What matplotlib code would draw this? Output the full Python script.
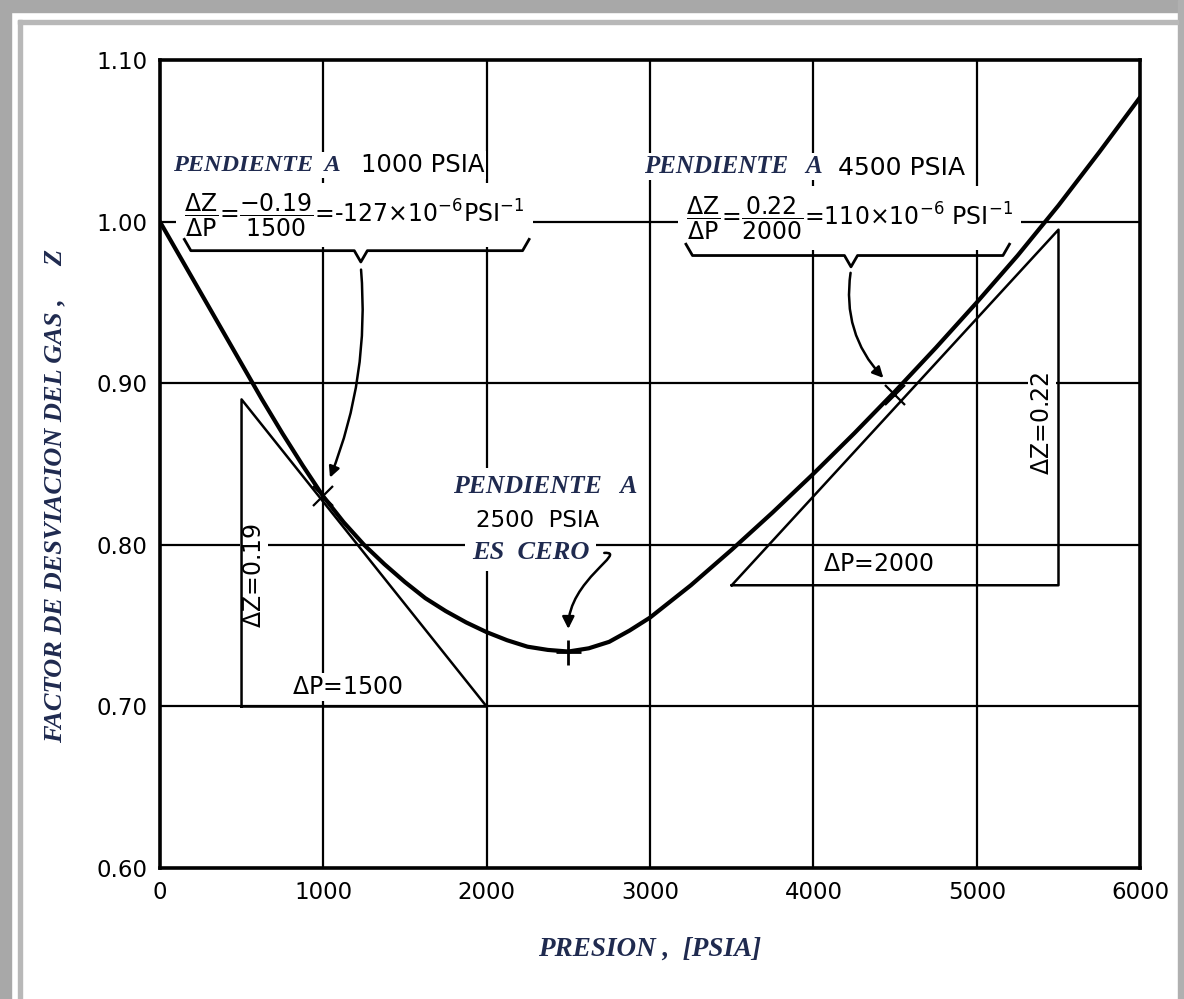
import numpy as np
import matplotlib.pyplot as plt
from matplotlib.patches import FancyArrowPatch, Rectangle
from matplotlib.path import Path

plt.rcParams['mathtext.default'] = 'regular'
plt.rcParams['mathtext.fontset'] = 'dejavusans'

# curva del factor Z
presion = [0, 125, 250, 375, 500, 625, 750, 875, 1000, 1125, 1250, 1375, 1500, 1625,
           1750, 1875, 2000, 2125, 2250, 2375, 2500, 2625, 2750, 2875, 3000, 3125,
           3250, 3375, 3500, 3750, 4000, 4250, 4500, 4750, 5000, 5250, 5500, 5750, 6000]
z_factor = [1.000, 0.978, 0.956, 0.934, 0.912, 0.890, 0.869, 0.849, 0.830, 0.814,
            0.800, 0.788, 0.777, 0.767, 0.759, 0.752, 0.746, 0.741, 0.737, 0.735,
            0.734, 0.736, 0.740, 0.747, 0.755, 0.765, 0.775, 0.786, 0.797, 0.820,
            0.844, 0.869, 0.895, 0.922, 0.950, 0.979, 1.010, 1.043, 1.077]

# triangulos de pendiente: (p_inicio, z_inicio), (p_fin, z_fin)
tri_1000 = [(500, 0.890), (2000, 0.700)]
tri_4500 = [(3500, 0.775), (5500, 0.995)]
puntos_tangentes = [(1000, 0.830), (4500, 0.893)]
punto_minimo = (2500, 0.734)

x_ticks = [0, 1000, 2000, 3000, 4000, 5000, 6000]
y_ticks = [0.60, 0.70, 0.80, 0.90, 1.00, 1.10]
y_tick_labels = ['0.60', '0.70', '0.80', '0.90', '1.00', '1.10']

navy = '#1f2a4f'
serif_bi = dict(family='Liberation Serif', weight='bold', style='italic', color=navy)
sans = dict(family='DejaVu Sans', color='black')
white_box = dict(facecolor='white', edgecolor='none', pad=1.5)
white_box_c = dict(facecolor='white', edgecolor='none', pad=5)

fig = plt.figure(figsize=(11.84, 9.99), dpi=100)
ax = fig.add_axes([0.135, 0.131, 0.828, 0.809])

ax.set_xlim(0, 6000)
ax.set_ylim(0.60, 1.10)

# rejilla
for p in x_ticks[1:-1]:
    ax.axvline(p, color='black', lw=1.6, zorder=1)
for z in y_ticks[1:-1]:
    ax.axhline(z, color='black', lw=1.6, zorder=1)

for s in ax.spines.values():
    s.set_linewidth(2.6)
    s.set_zorder(6)

ax.set_xticks(x_ticks)
ax.set_xticklabels([str(v) for v in x_ticks], fontsize=16.5, **sans)
ax.set_yticks(y_ticks)
ax.set_yticklabels(y_tick_labels, fontsize=16.5, **sans)
ax.tick_params(length=0, pad=9)

# curva
ax.plot(presion, z_factor, color='black', lw=3.0, zorder=5,
        solid_capstyle='round', solid_joinstyle='round')

# triangulos de pendiente
(p0, z0), (p1, z1) = tri_1000
ax.plot([p0, p0, p1, p0], [z1, z0, z1, z1], color='black', lw=1.8, zorder=4)
(p0, z0), (p1, z1) = tri_4500
ax.plot([p0, p1, p1, p0], [z0, z0, z1, z0], color='black', lw=1.8, zorder=4)

# marcas en los puntos de tangencia
for p, z in puntos_tangentes:
    ax.plot(p, z, marker='x', ms=14, mew=1.6, color='black', zorder=6)
ax.plot(*punto_minimo, marker='+', ms=18, mew=2.0, color='black', zorder=6)

# textos
ax.text(80, 1.035, 'PENDIENTE  A', fontsize=17.5, ha='left', va='center', zorder=3,
        bbox=white_box, **serif_bi)
ax.text(1230, 1.035, '1000 PSIA', fontsize=17.5, ha='left', va='center', zorder=3,
        bbox=white_box, **sans)
ax.text(150, 1.004,
        r'$\dfrac{\Delta Z}{\Delta P}$=$\dfrac{-0.19}{1500}$=-127$\times$10$^{-6}$PSI$^{-1}$',
        fontsize=17, ha='left', va='center', zorder=3, bbox=dict(facecolor='white',
        edgecolor='none', pad=6), **sans)

ax.text(2965, 1.034, 'PENDIENTE   A', fontsize=18, ha='left', va='center', zorder=3,
        bbox=white_box, **serif_bi)
ax.text(4150, 1.033, '4500 PSIA', fontsize=18, ha='left', va='center', zorder=3,
        bbox=white_box, **sans)
ax.text(3220, 1.002,
        r'$\dfrac{\Delta Z}{\Delta P}$=$\dfrac{0.22}{2000}$=110$\times$10$^{-6}$ PSI$^{-1}$',
        fontsize=17, ha='left', va='center', zorder=3, bbox=dict(facecolor='white',
        edgecolor='none', pad=6), **sans)

ax.text(2360, 0.836, 'PENDIENTE   A', fontsize=18.5, ha='center', va='center', zorder=3,
        bbox=white_box_c, **serif_bi)
ax.text(2315, 0.815, '2500  PSIA', fontsize=16.5, ha='center', va='center', zorder=3,
        bbox=white_box_c, **sans)
ax.text(2270, 0.795, 'ES  CERO', fontsize=19, ha='center', va='center', zorder=3,
        bbox=white_box_c, **serif_bi)

ax.text(1150, 0.712, r'$\Delta$P=1500', fontsize=17, ha='center', va='center', zorder=3,
        bbox=white_box, **sans)
ax.text(4400, 0.788, r'$\Delta$P=2000', fontsize=17, ha='center', va='center', zorder=3,
        bbox=white_box, **sans)
ax.text(575, 0.781, r'$\Delta$Z=0.19', fontsize=17, ha='center', va='center', rotation=90,
        zorder=3, bbox=white_box, **sans)
ax.text(5400, 0.875, r'$\Delta$Z=0.22', fontsize=17, ha='center', va='center', rotation=90,
        zorder=3, bbox=white_box, **sans)


def llave(x0, x1, xc, y, dy=0.007, dx=40):
    xs = [x0, x0 + dx, xc - dx, xc, xc + dx, x1 - dx, x1]
    ys = [y + dy, y, y, y - dy, y, y, y + dy]
    ax.plot(xs, ys, color='black', lw=2.0, zorder=4)


llave(150, 2260, 1230, 0.982)
llave(3220, 5200, 4230, 0.979)

# flechas
ax.add_patch(FancyArrowPatch((1230, 0.972), (1035, 0.840), arrowstyle='-|>',
                             mutation_scale=16, lw=1.8, color='black',
                             connectionstyle='arc3,rad=-0.12', zorder=6))
ax.add_patch(FancyArrowPatch((4230, 0.970), (4440, 0.902), arrowstyle='-|>',
                             mutation_scale=16, lw=1.8, color='black',
                             connectionstyle='arc3,rad=0.25', zorder=6))
ruta = Path([(2720, 0.795), (2870, 0.796), (2500, 0.778), (2500, 0.748)],
            [Path.MOVETO, Path.CURVE4, Path.CURVE4, Path.CURVE4])
ax.add_patch(FancyArrowPatch(path=ruta, arrowstyle='-|>', mutation_scale=18, lw=1.8,
                             color='black', zorder=6))

ax.set_xlabel('PRESION ,  [PSIA]', fontsize=19.5, labelpad=24, **serif_bi)
ax.set_ylabel('FACTOR DE DESVIACION DEL GAS ,     Z', fontsize=19, **serif_bi)
ax.yaxis.set_label_coords(-0.095, 0.46)

# marco de la imagen
fig.patches.extend([
    Rectangle((0, 0), 0.009, 1, transform=fig.transFigure, color='#a8a8a8', zorder=0),
    Rectangle((0, 0.988), 1, 0.012, transform=fig.transFigure, color='#a8a8a8', zorder=0),
    Rectangle((0.995, 0), 0.005, 1, transform=fig.transFigure, color='#b0b0b0', zorder=0),
    Rectangle((0.015, 0), 0.004, 0.98, transform=fig.transFigure, color='#b8b8b8', zorder=0),
    Rectangle((0.015, 0.976), 0.98, 0.004, transform=fig.transFigure, color='#b8b8b8', zorder=0),
])

fig.savefig('out.png', dpi=100)
